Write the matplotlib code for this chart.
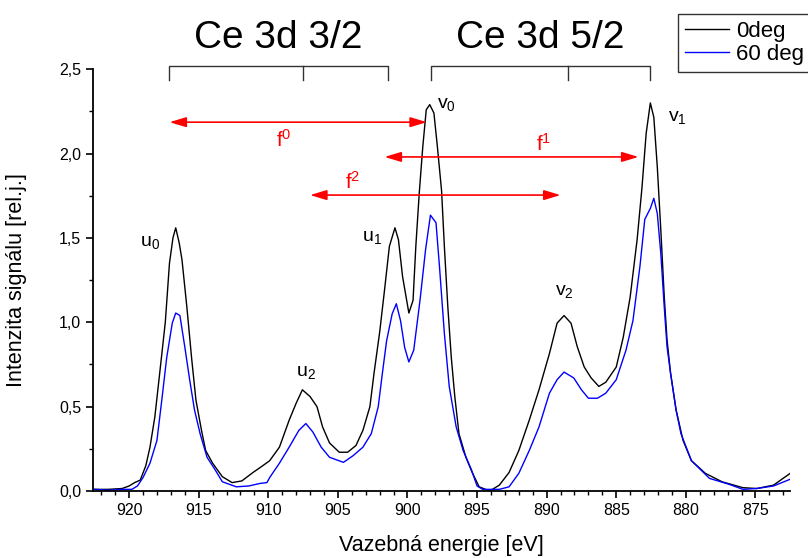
import numpy as np
import matplotlib
matplotlib.use("Agg")
import matplotlib.pyplot as plt
from matplotlib.ticker import MultipleLocator

plt.rcParams['font.family'] = ['Liberation Sans', 'DejaVu Sans']
plt.rcParams['mathtext.fontset'] = 'custom'
plt.rcParams['mathtext.rm'] = 'Liberation Sans'

# ===== DATA =====
energy_0 = [922.5, 921.5, 920.5, 920.0, 919.6, 919.2, 918.8, 918.5, 918.15, 917.8,
            917.4, 917.1, 916.85, 916.65, 916.4, 916.2, 915.85, 915.5, 915.2, 914.8,
            914.5, 914.0, 913.3, 912.6, 911.9, 911.1, 910.4, 909.9, 909.2, 908.5,
            908.0, 907.55, 907.0, 906.5, 906.1, 905.6, 904.9, 904.3, 903.7, 903.2,
            902.7, 902.4, 902.0, 901.65, 901.3, 900.9, 900.65, 900.35, 899.9, 899.6,
            899.4, 899.15, 898.9, 898.65, 898.4, 898.1, 897.85, 897.55, 897.35, 897.1,
            896.85, 896.6, 896.3, 895.8, 895.35, 894.85, 894.1, 893.4, 892.7, 892.0,
            891.25, 890.55, 889.8, 889.25, 888.75, 888.25, 887.8, 887.3, 886.8, 886.25,
            885.75, 885.0, 884.5, 884.0, 883.5, 883.15, 882.85, 882.55, 882.3, 882.05,
            881.8, 881.55, 881.35, 881.1, 880.7, 880.2, 879.6, 878.6, 877.4, 875.9,
            874.9, 873.7, 872.5]
signal_0 = [0.01, 0.01, 0.015, 0.03, 0.05, 0.065, 0.15, 0.26, 0.44, 0.70,
            1.00, 1.35, 1.50, 1.56, 1.47, 1.37, 1.09, 0.78, 0.54, 0.36,
            0.24, 0.165, 0.085, 0.05, 0.06, 0.11, 0.15, 0.18, 0.26, 0.42,
            0.52, 0.60, 0.56, 0.50, 0.38, 0.285, 0.23, 0.23, 0.27, 0.36,
            0.50, 0.70, 0.94, 1.19, 1.45, 1.56, 1.49, 1.27, 1.055, 1.13,
            1.45, 1.77, 2.04, 2.26, 2.29, 2.24, 2.04, 1.78, 1.45, 1.09,
            0.79, 0.56, 0.34, 0.20, 0.11, 0.025, 0.0, 0.035, 0.11, 0.24,
            0.42, 0.60, 0.815, 0.995, 1.04, 0.995, 0.855, 0.735, 0.67, 0.62,
            0.645, 0.735, 0.91, 1.15, 1.49, 1.80, 2.12, 2.30, 2.215, 1.92,
            1.55, 1.15, 0.895, 0.70, 0.48, 0.30, 0.18, 0.105, 0.055, 0.02,
            0.015, 0.035, 0.105]

energy_60 = [922.5, 921.5, 920.5, 919.8, 919.4, 919.0, 918.5, 918.0, 917.65, 917.3,
             916.9, 916.65, 916.35, 916.0, 915.65, 915.3, 914.9, 914.4, 913.85, 913.3,
             912.3, 911.4, 910.6, 910.1, 909.9, 909.2, 908.5, 907.8, 907.3, 906.8,
             906.2, 905.6, 904.6, 903.9, 903.2, 902.6, 902.1, 901.8, 901.5, 901.1,
             900.8, 900.5, 900.2, 899.9, 899.55, 899.1, 898.7, 898.35, 897.95, 897.7,
             897.35, 897.0, 896.5, 896.0, 895.4, 895.0, 894.6, 893.4, 892.7, 892.0,
             891.25, 890.55, 889.8, 889.25, 888.75, 888.05, 887.5, 887.0, 886.35, 885.75,
             885.0, 884.3, 883.8, 883.3, 882.95, 882.55, 882.3, 882.05, 881.8, 881.55,
             881.35, 881.1, 880.7, 880.35, 879.6, 878.3, 876.9, 875.9, 874.9, 873.7,
             872.5]
signal_60 = [0.01, 0.005, 0.01, 0.01, 0.03, 0.08, 0.165, 0.30, 0.54, 0.79,
             0.995, 1.055, 1.04, 0.855, 0.66, 0.48, 0.34, 0.20, 0.13, 0.055,
             0.025, 0.03, 0.045, 0.05, 0.08, 0.165, 0.26, 0.36, 0.40, 0.35,
             0.26, 0.20, 0.17, 0.21, 0.26, 0.34, 0.50, 0.70, 0.89, 1.05,
             1.11, 1.01, 0.85, 0.765, 0.835, 1.13, 1.43, 1.635, 1.59, 1.33,
             0.935, 0.62, 0.38, 0.24, 0.125, 0.03, 0.01, 0.01, 0.025, 0.105,
             0.24, 0.38, 0.58, 0.66, 0.705, 0.67, 0.60, 0.55, 0.55, 0.58,
             0.66, 0.835, 1.01, 1.33, 1.61, 1.675, 1.735, 1.645, 1.41, 1.09,
             0.855, 0.70, 0.48, 0.34, 0.18, 0.075, 0.04, 0.01, 0.015, 0.03,
             0.07]

series_labels = ['0deg', '60 deg']

# peak labels: text, energy, height
peak_names = [r'$\mathregular{u_0}$', r'$\mathregular{u_2}$', r'$\mathregular{u_1}$',
              r'$\mathregular{v_0}$', r'$\mathregular{v_2}$', r'$\mathregular{v_1}$']
peak_label_x = [919.2, 908.0, 903.3, 897.9, 889.4, 881.3]
peak_label_y = [1.47, 0.705, 1.50, 2.29, 1.18, 2.215]

# multiplet brackets (left end, middle, right end)
groups = ['Ce 3d 3/2', 'Ce 3d 5/2']
group_peaks = [[917.1, 907.5, 901.4], [898.3, 888.5, 882.6]]

# splitting arrows
arrow_names = [r'$\mathregular{f^0}$', r'$\mathregular{f^1}$', r'$\mathregular{f^2}$']
arrow_from = [917.1, 901.65, 907.0]
arrow_to = [898.6, 883.4, 889.0]
arrow_y = [2.186, 1.98, 1.754]
arrow_label_x = [908.9, 890.2, 903.95]
arrow_label_y = [2.08, 2.06, 1.83]

x_ticks = [920, 915, 910, 905, 900, 895, 890, 885, 880, 875]
y_ticks = [0.0, 0.5, 1.0, 1.5, 2.0, 2.5]
y_tick_labels = ['0,0', '0,5', '1,0', '1,5', '2,0', '2,5']

# ===== PLOT =====
fig = plt.figure(figsize=(8.08, 5.58), dpi=100)
ax = fig.add_axes([0.115, 0.12, 0.863, 0.756])

l0, = ax.plot(energy_0, signal_0, color='black', lw=1.0)
l1, = ax.plot(energy_60, signal_60, color='blue', lw=1.0)

ax.set_xlim(922.6, 872.5)
ax.set_ylim(0, 2.5)
ax.set_xticks(x_ticks)
ax.xaxis.set_minor_locator(MultipleLocator(1))
ax.set_yticks(y_ticks)
ax.set_yticklabels(y_tick_labels)
ax.yaxis.set_minor_locator(MultipleLocator(0.25))
ax.tick_params(which='major', direction='out', length=5, width=1.2, labelsize=11.5)
ax.tick_params(which='minor', direction='out', length=3, width=1.0)
for s in ['top', 'right']:
    ax.spines[s].set_visible(False)
for s in ['left', 'bottom']:
    ax.spines[s].set_linewidth(1.3)

ax.set_xlabel('Vazebná energie [eV]', fontsize=15.5)
ax.set_ylabel('Intenzita signálu [rel.j.]', fontsize=15.5)
ax.xaxis.set_label_coords(0.5, -0.105)
ax.yaxis.set_label_coords(-0.095, 0.5)

for name, x, y in zip(peak_names, peak_label_x, peak_label_y):
    ax.text(x, y, name, fontsize=14, ha='left', va='center')

for name, peaks in zip(groups, group_peaks):
    left, mid, right = peaks
    ax.plot([left, left, right, right], [2.435, 2.52, 2.52, 2.435],
            color='#333333', lw=1.0, clip_on=False)
    ax.plot([mid, mid], [2.52, 2.435], color='#333333', lw=1.0, clip_on=False)
    ax.text((left + right) / 2, 2.625, name, fontsize=28, ha='center', va='baseline')

for name, a, b, y, tx, ty in zip(arrow_names, arrow_from, arrow_to, arrow_y,
                                 arrow_label_x, arrow_label_y):
    ax.annotate('', xy=(b, y), xytext=(a, y),
                arrowprops=dict(arrowstyle='<|-|>,head_length=1.0,head_width=0.3',
                                color='red', lw=1.2, mutation_scale=10,
                                shrinkA=0, shrinkB=0))
    ax.text(tx, ty, name, fontsize=15, color='red', ha='center', va='center')

leg = fig.legend([l0, l1], series_labels, loc='upper left',
                 bbox_to_anchor=(0.839, 0.975), fontsize=16, frameon=True,
                 fancybox=False, handlelength=2.0, handletextpad=0.3,
                 labelspacing=0.1, borderpad=0.3, borderaxespad=0)
leg.get_frame().set_edgecolor('black')
leg.get_frame().set_linewidth(1.0)

fig.savefig('out.png', dpi=100)
